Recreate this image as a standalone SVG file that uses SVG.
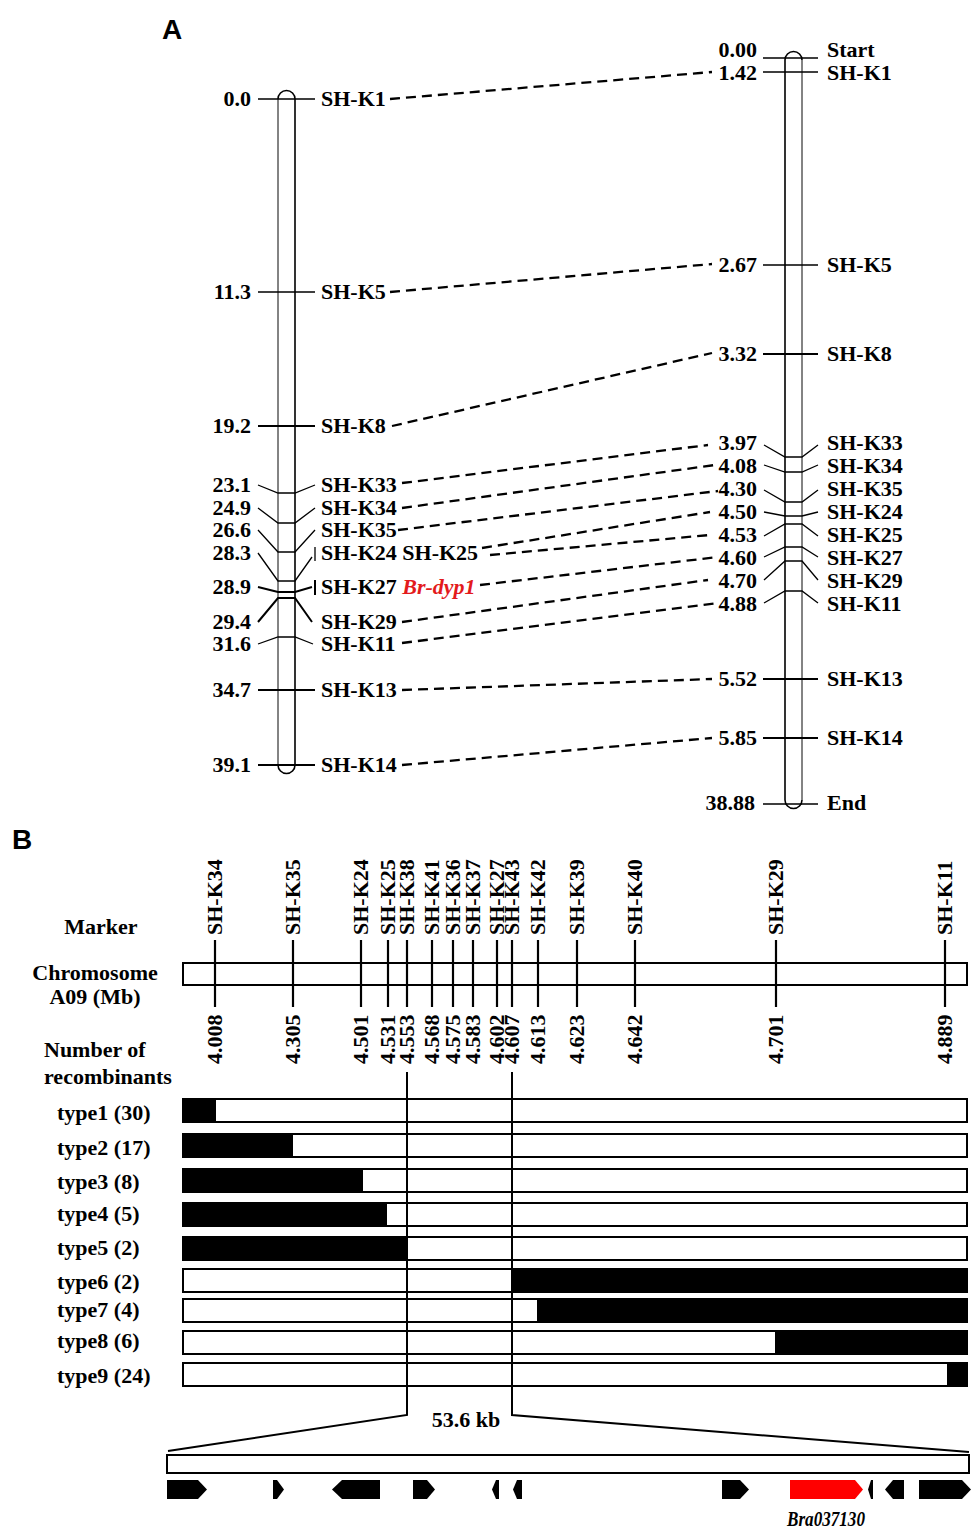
<svg xmlns="http://www.w3.org/2000/svg" width="975" height="1529" viewBox="0 0 975 1529">
<style>
.t{font-family:"Liberation Serif","Times New Roman",serif;font-weight:bold;font-size:22px;fill:#000}
.e{text-anchor:end}
.m{text-anchor:middle}
.lab{font-family:"Liberation Sans",Arial,sans-serif;font-weight:bold;font-size:28px;fill:#000}
.d{stroke:#000;stroke-width:2.3;stroke-dasharray:10 6;fill:none}
.k{stroke:#000;stroke-width:1.3;fill:none}
.kb{stroke:#000;stroke-width:2;fill:none}
.chr{fill:#fff;stroke:#000;stroke-width:1.6}
.row{fill:#fff;stroke:#000;stroke-width:2}
.g{fill:#000}
</style>
<rect width="975" height="1529" fill="#fff"/>
<text class="lab" x="162" y="39">A</text>
<text class="lab" x="12" y="849">B</text>

<!-- Left chromosome -->
<g id="left-chromosome">
<path class="chr" d="M278,99 A8.5,8.5 0 0 1 295,99 L295,765 A8.5,8.5 0 0 1 278,765 Z"/>
<line x1="278" y1="99" x2="278" y2="765" stroke="#999" stroke-width="1.6"/>
<path class="k" d="M258,99H315M258,292H315"/>
<path class="kb" d="M258,426H315M258,690H315M258,765H315"/>
<path class="k" d="M258,485L278,493H295L315,485"/>
<path class="k" d="M258,508L278,523H295L315,508"/>
<path class="k" d="M258,530L278,552H295L315,530"/>
<path class="k" d="M258,553L278,581H295L312,557M315,547V561"/>
<path class="kb" d="M258,587L278,592H295L312,587M315,580V595"/>
<path class="kb" d="M258,622L278,598H295L312,622"/>
<path class="k" d="M258,644L278,637H295L313,644"/>
<g class="t e">
<text x="251" y="106">0.0</text>
<text x="251" y="299">11.3</text>
<text x="251" y="433">19.2</text>
<text x="251" y="492">23.1</text>
<text x="251" y="515">24.9</text>
<text x="251" y="537">26.6</text>
<text x="251" y="560">28.3</text>
<text x="251" y="594">28.9</text>
<text x="251" y="629">29.4</text>
<text x="251" y="651">31.6</text>
<text x="251" y="697">34.7</text>
<text x="251" y="772">39.1</text>
</g>
<g class="t">
<text x="321" y="106">SH-K1</text>
<text x="321" y="299">SH-K5</text>
<text x="321" y="433">SH-K8</text>
<text x="321" y="492">SH-K33</text>
<text x="321" y="515">SH-K34</text>
<text x="321" y="537">SH-K35</text>
<text x="321" y="560">SH-K24 SH-K25</text>
<text x="321" y="594">SH-K27 <tspan fill="#e31a1c" font-style="italic">Br-dyp1</tspan></text>
<text x="321" y="629">SH-K29</text>
<text x="321" y="651">SH-K11</text>
<text x="321" y="697">SH-K13</text>
<text x="321" y="772">SH-K14</text>
</g>
</g>

<!-- Right chromosome -->
<g id="right-chromosome">
<path class="chr" d="M785,60 A8.5,8.5 0 0 1 802,60 L802,800 A8.5,8.5 0 0 1 785,800 Z"/>
<line x1="802" y1="60" x2="802" y2="800" stroke="#999" stroke-width="1.6"/>
<path class="k" d="M763,58H818M763,72H818M763,265H818M763,804H818"/>
<path class="kb" d="M763,354H818M763,679H818M763,738H818"/>
<path class="k" d="M764,445L785,457H802L818,445"/>
<path class="k" d="M764,465L785,472H802L818,465"/>
<path class="k" d="M764,490L785,502H802L818,490"/>
<path class="k" d="M764,512L785,516H802L818,512"/>
<path class="k" d="M764,536L785,524H802L818,536"/>
<path class="k" d="M764,557L785,547H802L818,557"/>
<path class="k" d="M764,580L785,561H802L818,580"/>
<path class="k" d="M764,603L785,591H802L818,603"/>
<g class="t e">
<text x="757" y="57">0.00</text>
<text x="757" y="80">1.42</text>
<text x="757" y="272">2.67</text>
<text x="757" y="361">3.32</text>
<text x="757" y="450">3.97</text>
<text x="757" y="473">4.08</text>
<text x="757" y="496">4.30</text>
<text x="757" y="519">4.50</text>
<text x="757" y="542">4.53</text>
<text x="757" y="565">4.60</text>
<text x="757" y="588">4.70</text>
<text x="757" y="611">4.88</text>
<text x="757" y="686">5.52</text>
<text x="757" y="745">5.85</text>
<text x="755" y="810">38.88</text>
</g>
<g class="t">
<text x="827" y="57">Start</text>
<text x="827" y="80">SH-K1</text>
<text x="827" y="272">SH-K5</text>
<text x="827" y="361">SH-K8</text>
<text x="827" y="450">SH-K33</text>
<text x="827" y="473">SH-K34</text>
<text x="827" y="496">SH-K35</text>
<text x="827" y="519">SH-K24</text>
<text x="827" y="542">SH-K25</text>
<text x="827" y="565">SH-K27</text>
<text x="827" y="588">SH-K29</text>
<text x="827" y="611">SH-K11</text>
<text x="827" y="686">SH-K13</text>
<text x="827" y="745">SH-K14</text>
<text x="827" y="810">End</text>
</g>
</g>

<!-- Connectors -->
<g id="connectors">
<path class="d" d="M390,99L712,72"/>
<path class="d" d="M390,292L712,264"/>
<path class="d" d="M392,426L712,353"/>
<path class="d" d="M402,483L708,445"/>
<path class="d" d="M402,508L715,465"/>
<path class="d" d="M398,530L718,491"/>
<path class="d" d="M482,548L710,512"/>
<path class="d" d="M490,555L710,535"/>
<path class="d" d="M480,585L718,557"/>
<path class="d" d="M402,622L708,580"/>
<path class="d" d="M402,643L718,603"/>
<path class="d" d="M402,690L712,679"/>
<path class="d" d="M402,765L712,738"/>
</g>

<!-- Part B -->
<g id="legend-b" class="t m">
<text x="101" y="934">Marker</text>
<text x="95" y="980">Chromosome</text>
<text x="95" y="1004">A09 (Mb)</text>
<text x="44" y="1057" text-anchor="start">Number of</text>
<text x="44" y="1084" text-anchor="start">recombinants</text>
</g>

<g id="physical-chromosome">
<rect x="183" y="963" width="784" height="22" fill="#fff" stroke="#000" stroke-width="2"/>
<g stroke="#000" stroke-width="2.2">
<line x1="215" y1="940" x2="215" y2="1007"/>
<line x1="293" y1="940" x2="293" y2="1007"/>
<line x1="361" y1="940" x2="361" y2="1007"/>
<line x1="388" y1="940" x2="388" y2="1007"/>
<line x1="407" y1="940" x2="407" y2="1007"/>
<line x1="432" y1="940" x2="432" y2="1007"/>
<line x1="453" y1="940" x2="453" y2="1007"/>
<line x1="473" y1="940" x2="473" y2="1007"/>
<line x1="497" y1="940" x2="497" y2="1007"/>
<line x1="512" y1="940" x2="512" y2="1007"/>
<line x1="538" y1="940" x2="538" y2="1007"/>
<line x1="577" y1="940" x2="577" y2="1007"/>
<line x1="635" y1="940" x2="635" y2="1007"/>
<line x1="776" y1="940" x2="776" y2="1007"/>
<line x1="945" y1="940" x2="945" y2="1007"/>
</g>
<g class="t">
<text transform="translate(222,935) rotate(-90)">SH-K34</text>
<text transform="translate(300,935) rotate(-90)">SH-K35</text>
<text transform="translate(368,935) rotate(-90)">SH-K24</text>
<text transform="translate(395,935) rotate(-90)">SH-K25</text>
<text transform="translate(414,935) rotate(-90)">SH-K38</text>
<text transform="translate(439,935) rotate(-90)">SH-K41</text>
<text transform="translate(460,935) rotate(-90)">SH-K36</text>
<text transform="translate(480,935) rotate(-90)">SH-K37</text>
<text transform="translate(504,935) rotate(-90)">SH-K27</text>
<text transform="translate(519,935) rotate(-90)">SH-K43</text>
<text transform="translate(545,935) rotate(-90)">SH-K42</text>
<text transform="translate(584,935) rotate(-90)">SH-K39</text>
<text transform="translate(642,935) rotate(-90)">SH-K40</text>
<text transform="translate(783,935) rotate(-90)">SH-K29</text>
<text transform="translate(952,935) rotate(-90)">SH-K11</text>
<text transform="translate(222,1064) rotate(-90)">4.008</text>
<text transform="translate(300,1064) rotate(-90)">4.305</text>
<text transform="translate(368,1064) rotate(-90)">4.501</text>
<text transform="translate(395,1064) rotate(-90)">4.531</text>
<text transform="translate(414,1064) rotate(-90)">4.553</text>
<text transform="translate(439,1064) rotate(-90)">4.568</text>
<text transform="translate(460,1064) rotate(-90)">4.575</text>
<text transform="translate(480,1064) rotate(-90)">4.583</text>
<text transform="translate(504,1064) rotate(-90)">4.602</text>
<text transform="translate(519,1064) rotate(-90)">4.607</text>
<text transform="translate(545,1064) rotate(-90)">4.613</text>
<text transform="translate(584,1064) rotate(-90)">4.623</text>
<text transform="translate(642,1064) rotate(-90)">4.642</text>
<text transform="translate(783,1064) rotate(-90)">4.701</text>
<text transform="translate(952,1064) rotate(-90)">4.889</text>
</g>
</g>

<g id="recombinant-types">
<rect class="row" x="183" y="1099" width="784" height="23"/><rect class="g" x="183" y="1099" width="33" height="23"/>
<rect class="row" x="183" y="1134" width="784" height="23"/><rect class="g" x="183" y="1134" width="110" height="23"/>
<rect class="row" x="183" y="1169" width="784" height="23"/><rect class="g" x="183" y="1169" width="180" height="23"/>
<rect class="row" x="183" y="1203" width="784" height="23"/><rect class="g" x="183" y="1203" width="204" height="23"/>
<rect class="row" x="183" y="1237" width="784" height="23"/><rect class="g" x="183" y="1237" width="224" height="23"/>
<rect class="row" x="183" y="1269" width="784" height="23"/><rect class="g" x="512" y="1269" width="456" height="23"/>
<rect class="row" x="183" y="1299" width="784" height="23"/><rect class="g" x="537" y="1299" width="431" height="23"/>
<rect class="row" x="183" y="1331" width="784" height="23"/><rect class="g" x="775" y="1331" width="193" height="23"/>
<rect class="row" x="183" y="1363" width="784" height="23"/><rect class="g" x="947" y="1363" width="21" height="23"/>
<g class="t">
<text x="57" y="1120">type1 (30)</text>
<text x="57" y="1155">type2 (17)</text>
<text x="57" y="1189">type3 (8)</text>
<text x="57" y="1221">type4 (5)</text>
<text x="57" y="1255">type5 (2)</text>
<text x="57" y="1289">type6 (2)</text>
<text x="57" y="1317">type7 (4)</text>
<text x="57" y="1348">type8 (6)</text>
<text x="57" y="1383">type9 (24)</text>
</g>
</g>

<g id="zoom-lines">
<path d="M407,1072V1415L168,1451" fill="none" stroke="#000" stroke-width="2"/>
<path d="M512,1072V1415L969,1452" fill="none" stroke="#000" stroke-width="2"/>
<text class="t m" x="466" y="1427" font-size="21">53.6 kb</text>
</g>

<g id="gene-region">
<rect x="167" y="1455" width="802" height="18" fill="#fff" stroke="#000" stroke-width="2"/>
<g class="g">
<path d="M167,1480H198L207,1489.5L198,1499H167Z"/>
<path d="M273,1480H277L284,1489.5L277,1499H273Z"/>
<path d="M380,1480H342L332,1489.5L342,1499H380Z"/>
<path d="M413,1480H427L435,1489.5L427,1499H413Z"/>
<path d="M499,1480H496L492,1489.5L496,1499H499Z"/>
<path d="M522,1480H517L513,1489.5L517,1499H522Z"/>
<path d="M722,1480H740L749,1489.5L740,1499H722Z"/>
<path d="M873,1480H871L868,1489.5L871,1499H873Z"/>
<path d="M904,1480H893L885,1489.5L893,1499H904Z"/>
<path d="M919,1480H962L971,1489.5L962,1499H919Z"/>
</g>
<path d="M790,1480H855L863,1489.5L855,1499H790Z" fill="#ff0000"/>
<text class="t m" x="826" y="1526" font-size="15.5" font-style="italic" textLength="78" lengthAdjust="spacingAndGlyphs">Bra037130</text>
</g>
</svg>
